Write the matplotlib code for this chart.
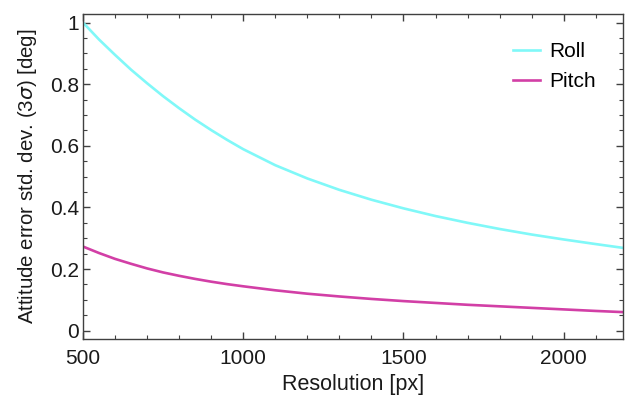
import numpy as np
import matplotlib
matplotlib.use("Agg")
import matplotlib.pyplot as plt
from matplotlib.ticker import MultipleLocator

plt.rcParams['font.family'] = ['Liberation Sans', 'DejaVu Sans']
plt.rcParams['mathtext.fontset'] = 'dejavusans'

# data
resolution = [500, 550, 600, 650, 700, 750, 800, 850, 900, 950, 1000, 1100,
              1200, 1300, 1400, 1500, 1600, 1700, 1800, 1900, 2000, 2100, 2190]
roll = [1.000, 0.945, 0.895, 0.847, 0.803, 0.761, 0.722, 0.685, 0.651, 0.619,
        0.589, 0.537, 0.494, 0.457, 0.425, 0.397, 0.372, 0.350, 0.330, 0.312,
        0.296, 0.281, 0.268]
pitch = [0.273, 0.252, 0.233, 0.217, 0.202, 0.189, 0.178, 0.168, 0.159, 0.151,
         0.144, 0.131, 0.120, 0.111, 0.103, 0.096, 0.090, 0.084, 0.079, 0.074,
         0.069, 0.064, 0.060]

yticks = [0, 0.2, 0.4, 0.6, 0.8, 1]
ytick_labels = ["0", "0.2", "0.4", "0.6", "0.8", "1"]
xticks = [500, 1000, 1500, 2000]

fig = plt.figure(figsize=(6.25, 3.98), dpi=100)
ax = fig.add_axes([0.1328, 0.1475, 0.864, 0.8175])

ax.plot(resolution, roll, color="#80f8f8", lw=1.9, label="Roll")
ax.plot(resolution, pitch, color="#d23fa6", lw=1.9, label="Pitch")

ax.set_xlim(500, 2185)
ax.set_ylim(-0.028, 1.028)
ax.set_xticks(xticks)
ax.set_yticks(yticks)
ax.set_yticklabels(ytick_labels)
ax.xaxis.set_minor_locator(MultipleLocator(100))
ax.yaxis.set_minor_locator(MultipleLocator(0.05))
ax.tick_params(which="both", direction="in", top=True, right=True,
               color="#404040", labelsize=15, labelcolor="#1a1a1a")
ax.tick_params(which="major", length=5, width=1)
ax.tick_params(which="minor", length=3, width=0.8)
ax.tick_params(axis="x", pad=7)
ax.tick_params(axis="y", pad=3)
for s in ax.spines.values():
    s.set_color("#404040")
    s.set_linewidth(1.0)

ax.set_xlabel("Resolution [px]", fontsize=15.5, color="#1a1a1a", labelpad=4)
ax.set_ylabel(r"Attitude error std. dev. (3$\sigma$) [deg]", fontsize=14.7,
              color="#1a1a1a", labelpad=8)

ax.legend(loc="upper right", frameon=False, fontsize=15, handlelength=1.3,
          handletextpad=0.45, labelspacing=0.5, bbox_to_anchor=(0.985, 0.97))

plt.savefig("out.png", dpi=100)
